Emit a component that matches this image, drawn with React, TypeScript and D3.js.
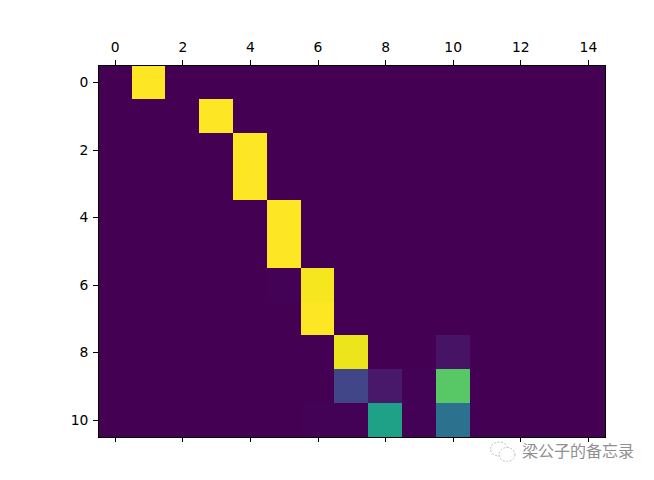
import React, { useEffect, useRef } from "react";
import * as d3 from "d3";

const WIDTH = 654;
const HEIGHT = 480;
const xTicks = [0, 2, 4, 6, 8, 10, 12, 14];
const yTicks = [0, 2, 4, 6, 8, 10];
const matrix: number[][] = [
  [0, 1, 0, 0, 0, 0, 0, 0, 0, 0, 0, 0, 0, 0, 0],
  [0, 0, 0, 1, 0, 0, 0, 0, 0, 0, 0, 0, 0, 0, 0],
  [0, 0, 0, 0, 1, 0, 0, 0, 0, 0, 0, 0, 0, 0, 0],
  [0, 0, 0, 0, 1, 0, 0, 0, 0, 0, 0, 0, 0, 0, 0],
  [0, 0, 0, 0, 0, 1, 0, 0, 0, 0, 0, 0, 0, 0, 0],
  [0, 0, 0, 0, 0, 1, 0, 0, 0, 0, 0, 0, 0, 0, 0],
  [0, 0, 0, 0, 0, 0.006, 0.985, 0, 0, 0, 0, 0, 0, 0, 0],
  [0, 0, 0, 0, 0, 0, 1, 0, 0, 0, 0, 0, 0, 0, 0],
  [0, 0, 0, 0, 0, 0, 0, 0.97, 0, 0, 0.05, 0, 0, 0, 0],
  [0, 0, 0, 0, 0, 0, 0, 0.21, 0.065, 0.006, 0.74, 0, 0, 0, 0],
  [0, 0, 0, 0, 0, 0, 0.004, 0.004, 0.57, 0.006, 0.375, 0, 0, 0, 0],
];
const watermark = "梁公子的备忘录";

export default function App() {
  const ref = useRef<SVGSVGElement>(null);
  useEffect(() => {
    const svg = d3.select(ref.current!);
    svg.selectAll("*").remove();
    const left = 97.8, right = 604.8, top = 65.3, bottom = 436.55;
    const x = d3.scaleLinear().domain([-0.5, 14.5]).range([left, right]);
    const y = d3.scaleLinear().domain([-0.5, 10.5]).range([top, bottom]);
    const color = d3.scaleSequential(d3.interpolateViridis).domain([0, 1]);

    svg.append("rect").attr("width", WIDTH).attr("height", HEIGHT).attr("fill", "#fff");

    const cells = matrix.flatMap((row, r) => row.map((v, c) => ({ r, c, v })));
    svg.append("g").attr("shape-rendering", "crispEdges")
      .selectAll("rect").data(cells).join("rect")
      .attr("x", d => x(d.c - 0.5))
      .attr("y", d => y(d.r - 0.5))
      .attr("width", d => x(d.c + 0.5) - x(d.c - 0.5))
      .attr("height", d => y(d.r + 0.5) - y(d.r - 0.5))
      .attr("fill", d => color(d.v));

    const font = "'DejaVu Sans', sans-serif";
    const tickLen = 4.86;
    const pad = 4.86;
    const style = (g: any) => {
      g.select(".domain").remove();
      g.selectAll(".tick line").attr("stroke", "#000").attr("stroke-width", 1).attr("shape-rendering", "crispEdges");
      g.selectAll("text").attr("font-family", font).attr("font-size", 13.89).attr("fill", "#000");
    };
    svg.append("g").attr("transform", "translate(0,65)")
      .call(d3.axisTop(x).tickValues(xTicks).tickFormat(d3.format("d") as any).tickSize(tickLen).tickPadding(8).tickSizeOuter(0))
      .call(style);
    svg.append("g").attr("transform", "translate(0,437.5)")
      .call(d3.axisBottom(x).tickValues(xTicks).tickFormat(() => "").tickSize(tickLen).tickSizeOuter(0))
      .call(style);
    svg.append("g").attr("transform", "translate(98,0)")
      .call(d3.axisLeft(y).tickValues(yTicks).tickFormat(d3.format("d") as any).tickSize(tickLen).tickPadding(pad).tickSizeOuter(0))
      .call(style);

    // spines
    const spines = svg.append("g").attr("stroke", "#000").attr("stroke-width", 1).attr("shape-rendering", "crispEdges");
    spines.append("line").attr("x1", 98).attr("x2", 606).attr("y1", 65.5).attr("y2", 65.5);
    spines.append("line").attr("x1", 98).attr("x2", 606).attr("y1", 437.5).attr("y2", 437.5);
    spines.append("line").attr("x1", 98.5).attr("x2", 98.5).attr("y1", 65).attr("y2", 438);
    spines.append("line").attr("x1", 605.5).attr("x2", 605.5).attr("y1", 65).attr("y2", 438);

    // watermark
    const wm = svg.append("g").attr("transform", "translate(503,452)").attr("fill", "#fff").attr("stroke", "#b5b5b5").attr("stroke-width", 0.9);
    wm.append("ellipse").attr("cx", -4).attr("cy", -3).attr("rx", 8.5).attr("ry", 7).attr("stroke-dasharray", "2 1.5");
    wm.append("ellipse").attr("cx", 4).attr("cy", 2.5).attr("rx", 8).attr("ry", 7).attr("stroke-dasharray", "2 1.5");
    svg.append("text").attr("x", 522).attr("y", 457).text(watermark)
      .attr("font-family", "'Noto Sans CJK SC', sans-serif").attr("font-size", 16).attr("fill", "#909090");
  }, []);
  return <svg ref={ref} width={WIDTH} height={HEIGHT} style={{ position: "absolute", left: 0, top: 0 }} />;
}
